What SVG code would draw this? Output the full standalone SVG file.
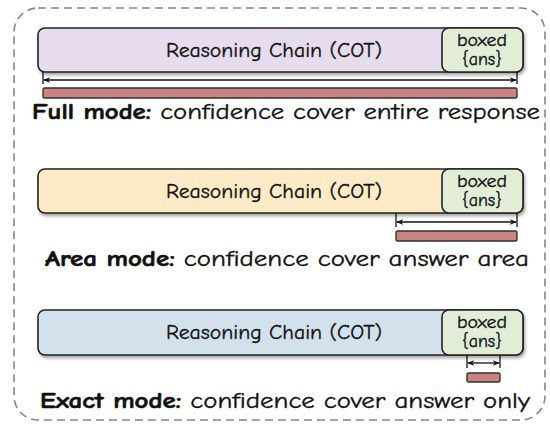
<svg xmlns="http://www.w3.org/2000/svg" width="550" height="424" viewBox="0 0 550 424">
<defs>
<filter id="sh" x="-5%" y="-20%" width="110%" height="150%">
<feDropShadow dx="1.5" dy="2.5" stdDeviation="1.5" flood-color="#000" flood-opacity="0.35"/>
</filter>
<marker id="ah" viewBox="0 0 10 10" refX="9" refY="5" markerWidth="7" markerHeight="7" orient="auto-start-reverse" markerUnits="userSpaceOnUse">
<path d="M0,1 L10,5 L0,9 L3,5 Z" fill="#111"/>
</marker>
<style>
.t{font-family:"Comic Sans MS","Comic Neue","DejaVu Sans",sans-serif;fill:#111;stroke:#111;stroke-width:0.35}
.chain{font-size:21px}
.box{font-size:18px}
.mode{font-size:21.5px}
.b{font-weight:bold;stroke-width:0.6}
.bar{stroke:#222;stroke-width:1.6}
.ans{fill:#e2edd8;stroke:#222;stroke-width:1.6}
.red{fill:#c98381;stroke:#333;stroke-width:1.4}
.arr{stroke:#111;stroke-width:1.3;fill:none}
.tick{stroke:#111;stroke-width:1.3}
</style>
</defs>
<rect x="14" y="8" width="531" height="412" rx="24" fill="none" stroke="#888" stroke-width="1.6" stroke-dasharray="8,5"/>

<g id="full">
<rect class="bar" x="38" y="28" width="485" height="44" rx="7" fill="#e6dcee" filter="url(#sh)"/>
<rect class="ans" x="442" y="28" width="81" height="44" rx="7"/>
<text class="t chain" x="166" y="57" textLength="216" lengthAdjust="spacingAndGlyphs">Reasoning Chain (COT)</text>
<text class="t box" x="457" y="46" textLength="50" lengthAdjust="spacingAndGlyphs">boxed</text>
<text class="t box" x="462" y="65" textLength="40" lengthAdjust="spacingAndGlyphs">{ans}</text>
<rect class="red" x="43" y="88" width="474" height="10" rx="1.5"/>
<text class="t mode" x="32" y="119" textLength="508" lengthAdjust="spacingAndGlyphs"><tspan class="b">Full mode:</tspan> confidence cover entire response</text>
</g>

<g id="area">
<rect class="bar" x="38" y="169" width="485" height="44" rx="7" fill="#fcebc6" filter="url(#sh)"/>
<rect class="ans" x="442" y="169" width="81" height="44" rx="7"/>
<text class="t chain" x="166" y="198" textLength="216" lengthAdjust="spacingAndGlyphs">Reasoning Chain (COT)</text>
<text class="t box" x="457" y="187" textLength="50" lengthAdjust="spacingAndGlyphs">boxed</text>
<text class="t box" x="462" y="206" textLength="40" lengthAdjust="spacingAndGlyphs">{ans}</text>
<rect class="red" x="396" y="231" width="121" height="10" rx="1.5"/>
<text class="t mode" x="45" y="266" textLength="484" lengthAdjust="spacingAndGlyphs"><tspan class="b">Area mode:</tspan> confidence cover answer area</text>
</g>

<g id="exact">
<rect class="bar" x="38" y="310" width="485" height="45" rx="7" fill="#d3e1ec" filter="url(#sh)"/>
<rect class="ans" x="442" y="310" width="81" height="45" rx="7"/>
<text class="t chain" x="166" y="339" textLength="216" lengthAdjust="spacingAndGlyphs">Reasoning Chain (COT)</text>
<text class="t box" x="457" y="328" textLength="50" lengthAdjust="spacingAndGlyphs">boxed</text>
<text class="t box" x="462" y="347" textLength="40" lengthAdjust="spacingAndGlyphs">{ans}</text>
<rect class="red" x="467" y="373" width="33" height="9" rx="1.5"/>
<text class="t mode" x="40" y="408" textLength="490" lengthAdjust="spacingAndGlyphs"><tspan class="b">Exact mode:</tspan> confidence cover answer only</text>
</g>

<g id="connectors">
<line class="tick" x1="43" y1="72" x2="43" y2="84"/>
<line class="tick" x1="517" y1="72" x2="517" y2="84"/>
<line class="arr" x1="44" y1="80" x2="516" y2="80" marker-start="url(#ah)" marker-end="url(#ah)"/>
<line class="tick" x1="396" y1="213" x2="396" y2="227"/>
<line class="tick" x1="517" y1="213" x2="517" y2="227"/>
<line class="arr" x1="397" y1="222" x2="516" y2="222" marker-start="url(#ah)" marker-end="url(#ah)"/>
<line class="tick" x1="467" y1="355" x2="467" y2="368"/>
<line class="tick" x1="500" y1="355" x2="500" y2="368"/>
<line class="arr" x1="468" y1="363" x2="499" y2="363" marker-start="url(#ah)" marker-end="url(#ah)"/>
</g>
</svg>
